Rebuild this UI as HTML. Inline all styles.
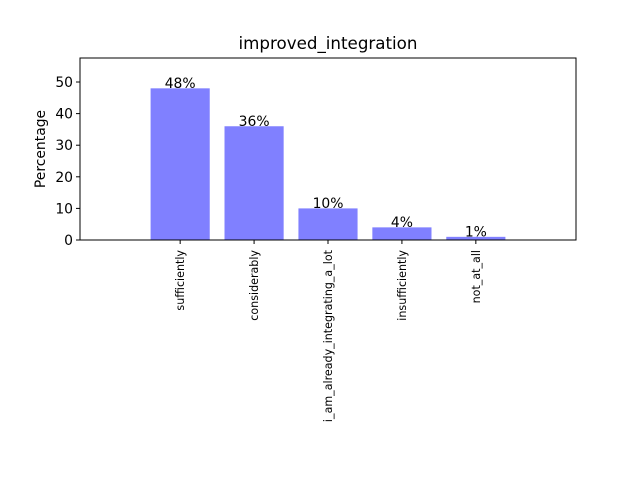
<!DOCTYPE html>
<html><head><meta charset="utf-8"><style>
body{margin:0;background:#fff;}
svg text{font-family:"DejaVu Sans","Liberation Sans",sans-serif;}
</style></head><body>
<svg id="chart" width="640" height="480" xmlns="http://www.w3.org/2000/svg">
<rect width="640" height="480" fill="#fff"/>
<text x="328" y="49" font-size="16.7" text-anchor="middle">improved_integration</text>
<text transform="translate(45,149) rotate(-90)" font-size="13.9" text-anchor="middle">Percentage</text>
<g id="bars"></g><g id="yticks"></g><g id="xticks"></g>
<rect x="80" y="58" width="496" height="182" fill="none" stroke="#000" stroke-width="1"/>
</svg>
<script>
const categories=["sufficiently","considerably","i_am_already_integrating_a_lot","insufficiently","not_at_all"];
const values=[48,36,10,4,1];
const valueLabels=["48%","36%","10%","4%","1%"];
const yTicks=[0,10,20,30,40,50];
const L=80,R=576,T=58,B=240,xmin=-1.355,xmax=5.355,ymax=57.6;
const ns="http://www.w3.org/2000/svg";
function xs(v){return L+(v-xmin)/(xmax-xmin)*(R-L);}
function ys(v){return B-v/ymax*(B-T);}
function mk(t,a,p){const e=document.createElementNS(ns,t);for(const k in a)e.setAttribute(k,a[k]);p.appendChild(e);return e;}
const bars=document.getElementById('bars'),yt=document.getElementById('yticks'),xt=document.getElementById('xticks');
categories.forEach((c,i)=>{
 const w=xs(0.4)-xs(-0.4);
 const r=mk('rect',{x:xs(i-0.4),y:ys(values[i]),width:w,height:ys(0)-ys(values[i]),fill:'#8080ff'},bars);
 
 
 const t=mk('text',{x:xs(i),y:ys(values[i])-0.5,'font-size':13.9,'text-anchor':'middle'},bars);
 t.textContent=valueLabels[i];
 
 
 mk('line',{x1:xs(i),x2:xs(i),y1:B,y2:B+4,stroke:'#000'},xt);
 const l=mk('text',{transform:`translate(${xs(i)+4},${B+10}) rotate(-90)`,'font-size':11.1,'text-anchor':'end'},xt);
 l.textContent=c;
 
 
});
yTicks.forEach(v=>{
 mk('line',{x1:L-4,x2:L,y1:ys(v),y2:ys(v),stroke:'#000'},yt);
 const t=mk('text',{x:L-7,y:ys(v)+5,'font-size':13.9,'text-anchor':'end'},yt);
 t.textContent=v;
 
 
});
</script>
</body></html>
